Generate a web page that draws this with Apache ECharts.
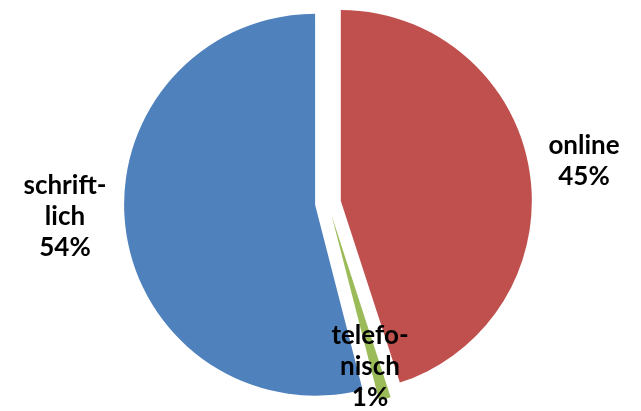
<!DOCTYPE html>
<html>
<head>
<meta charset="utf-8">
<script src="https://cdn.jsdelivr.net/npm/echarts@6/dist/echarts.min.js"></script>
<style>
  html, body { margin: 0; padding: 0; background: #fff; }
  #chart { width: 641px; height: 411px; }
</style>
</head>
<body>
<div id="chart"></div>
<script>
// Contact channels, in clockwise order from 12 o'clock
const categories = ['online', 'telefo-\nnisch', 'schrift-\nlich'];
const shares = [45, 1, 54];
const colors = ['#C0504D', '#9BBB59', '#4F81BD'];

// Centre of each slice's label block (pixels)
const labelSpots = [[584, 161], [370, 367], [65, 217]];

const chart = echarts.init(document.getElementById('chart'), null, { renderer: 'canvas' });

chart.setOption({
  animation: false,
  // Slice captions: name plus share, placed beside their slices
  graphic: categories.map((name, i) => ({
    type: 'text',
    x: labelSpots[i][0],
    y: labelSpots[i][1],
    z: 100,
    silent: true,
    style: {
      text: name + '\n' + shares[i] + '%',
      fontFamily: 'Lato',
      fontWeight: 'bold',
      fontSize: 26,
      lineHeight: 31,
      fill: '#000',
      align: 'center',
      verticalAlign: 'middle'
    }
  })),
  series: [{
    type: 'pie',
    center: [328, 203],
    radius: [0, 191],
    startAngle: 90,
    clockwise: true,
    selectedMode: 'multiple',
    selectedOffset: 13,
    select: { itemStyle: { borderWidth: 0 } },
    itemStyle: { borderWidth: 0 },
    label: { show: false },
    labelLine: { show: false },
    emphasis: { disabled: true },
    data: categories.map((name, i) => ({
      name: name,
      value: shares[i],
      selected: true,
      itemStyle: { color: colors[i] }
    }))
  }]
});
</script>
</body>
</html>
